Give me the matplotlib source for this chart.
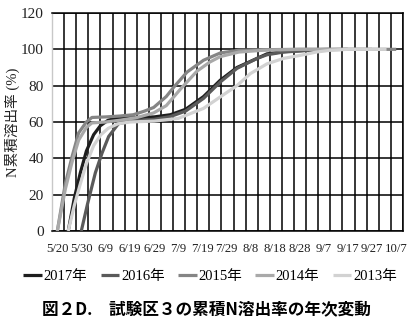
import numpy as np
import matplotlib
matplotlib.use("Agg")
import matplotlib.pyplot as plt

# days counted from 5/20
tick_days = [0, 10, 20, 30, 40, 50, 60, 70, 80, 90, 100, 110, 120, 130, 140]
tick_labels = ["5/20", "5/30", "6/9", "6/19", "6/29", "7/9", "7/19", "7/29",
               "8/8", "8/18", "8/28", "9/7", "9/17", "9/27", "10/7"]

d2017 = [4.5, 7, 9.5, 12, 15, 17.8, 21, 24, 30, 40, 46.7, 53, 60.4, 67.3, 74.2, 82.5, 86.6, 93.4, 107, 113]
v2017 = [0, 18, 32, 44, 53, 58, 61, 62, 62.3, 62.8, 64, 67, 74, 83, 90, 95, 97.5, 98.7, 99.8, 100]

d2016 = [9.9, 12.5, 15.7, 18.5, 21.2, 25.2, 30, 40, 46.7, 53, 60.4, 67.3, 74.2, 82.5, 86.6, 93.4, 107, 120]
v2016 = [0, 15, 32, 43, 52, 59, 60.5, 61.5, 63, 66, 73, 82, 89.5, 95, 97, 98.5, 99.7, 100]

d2015 = [0, 3.3, 6.1, 8.8, 12, 14.3, 20, 26, 31.4, 36, 39.8, 45, 48, 53.6, 60.4, 67.3, 75, 85, 100, 120, 140]
v2015 = [0, 26, 41, 54, 60, 62.5, 62.8, 63.3, 64, 66, 68, 74, 79, 87.5, 94, 98, 99.5, 99.8, 100, 100, 100]

d2014 = [0, 3.3, 6.1, 8.8, 12, 14.3, 20, 26, 33, 39.8, 45, 50.8, 57.7, 63, 67.3, 75, 85, 100, 130]
v2014 = [0, 23, 38, 50, 57, 59.5, 60, 61, 62.5, 65, 69, 78, 88, 93, 96, 98.5, 99.5, 100, 100]

d2013 = [4.5, 7, 9.5, 12, 15, 18, 21, 25, 30, 40, 50, 60.4, 67.3, 74.2, 79.7, 86.6, 93.4, 100.4, 107, 112.8, 120, 136]
v2013 = [0, 14, 26, 37, 47, 53, 56.5, 59, 60, 60.5, 62, 67.5, 73.8, 80, 86.6, 92, 95, 96.7, 98.5, 99.5, 100, 100]

years = ["2017年", "2016年", "2015年", "2014年", "2013年"]
colors = ["#1e1e1e", "#5a5a5a", "#858585", "#a9a9a9", "#d2d2d2"]

serif = ["Liberation Serif", "Noto Sans CJK JP"]

fig = plt.figure(figsize=(4.17, 3.31), dpi=100)
ax = fig.add_axes([52 / 417, 100 / 331, 351 / 417, 218 / 331])

series = [(d2017, v2017), (d2016, v2016), (d2015, v2015), (d2014, v2014), (d2013, v2013)]
for (d, v), lab, c in zip(series, years, colors):
    ax.plot(d, v, color=c, lw=2.3, label=lab, solid_capstyle="butt", zorder=3)

ax.set_xlim(-2.2, 142.8)
ax.set_ylim(0, 120)
ax.set_xticks(tick_days)
ax.set_xticklabels(tick_labels, family=serif, fontsize=9.2, color="#222222")
ax.set_xticks(np.arange(-2.2, 143, 5), minor=True)
ax.set_yticks(range(0, 121, 20))
ax.set_yticklabels([str(v) for v in range(0, 121, 20)], family=serif, fontsize=11, color="#222222")
ax.tick_params(axis="x", which="both", length=0, pad=9)
ax.tick_params(axis="y", length=0, pad=6)
ax.grid(True, axis="x", which="minor", color="black", lw=1.1, zorder=1)
ax.grid(True, axis="y", which="major", color="black", lw=1.1, zorder=1)
for s in ["top", "right", "bottom"]:
    ax.spines[s].set_color("black")
    ax.spines[s].set_linewidth(1.1)
ax.spines["left"].set_color("#c8c8c8")
ax.spines["left"].set_linewidth(1.0)

ax.set_ylabel("N累積溶出率 (%)", family=serif, fontsize=10.5, color="#222222", va="center")
ax.yaxis.set_label_coords(-40 / 351, 0.5)

fig.legend(loc="center", bbox_to_anchor=(210 / 417, 1 - 276 / 331), ncol=5,
           frameon=False, prop={"family": serif, "size": 10.5},
           handlelength=1.3, handletextpad=0.1, columnspacing=0.9)

fig.text(206 / 417, 1 - 309 / 331, "図２D.　試験区３の累積N溶出率の年次変動",
         family=["Noto Sans CJK JP", "DejaVu Sans"], fontsize=12, fontweight="bold",
         ha="center", va="center")

fig.savefig("out.png", dpi=100)
